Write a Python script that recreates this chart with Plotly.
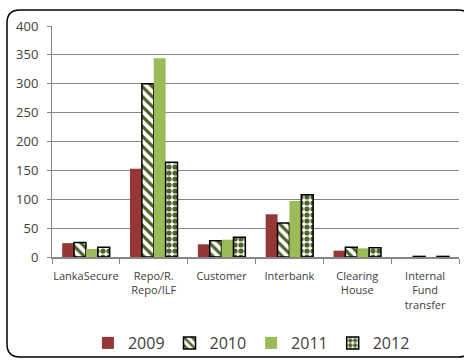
import plotly.graph_objects as go

categories = ["LankaSecure", "Repo/R.<br>Repo/ILF", "Customer", "Interbank",
              "Clearing<br>House", "Internal<br>Fund<br>transfer"]
years = ["2009", "2010", "2011", "2012"]
v2009 = [24, 153, 22, 74, 11, 0]
v2010 = [25, 300, 28, 59, 17, 1]
v2011 = [14, 344, 30, 97, 15, 0]
v2012 = [17, 164, 34, 108, 16, 1]
y_ticks = [0, 50, 100, 150, 200, 250, 300, 350, 400]

RED = "#953735"
GREEN = "#9BBB59"
DARK_GREEN = "#4F6228"
FONT = "'Open Sans', Lato, sans-serif"

fig = go.Figure()
fig.add_trace(go.Bar(name=years[0], x=categories, y=v2009,
                     marker=dict(color=RED, line=dict(width=0))))
fig.add_trace(go.Bar(name=years[1], x=categories, y=v2010,
                     marker=dict(color="white", line=dict(color="black", width=1.5),
                                 pattern=dict(shape="\\", fgcolor=DARK_GREEN, bgcolor="white",
                                              size=7, solidity=0.45, fillmode="replace"))))
fig.add_trace(go.Bar(name=years[2], x=categories, y=v2011,
                     marker=dict(color=GREEN, line=dict(width=0))))
fig.add_trace(go.Bar(name=years[3], x=categories, y=v2012,
                     marker=dict(color="white", line=dict(color="black", width=1.5),
                                 pattern=dict(shape=".", fgcolor=DARK_GREEN, bgcolor="white",
                                              size=6, solidity=0.6, fillmode="replace"))))

# plot area geometry in pixels (for the outer rounded frame)
W, H = 464, 360
L, R, T, B = 52, 5, 26, 103
pw, ph = W - L - R, H - T - B


def px(x):
    return (x - L) / pw


def py(y):
    return (H - B - y) / ph


def rounded_rect(x0, y0, x1, y1, r):
    return (f"M {px(x0 + r)},{py(y0)} L {px(x1 - r)},{py(y0)} "
            f"Q {px(x1)},{py(y0)} {px(x1)},{py(y0 + r)} "
            f"L {px(x1)},{py(y1 - r)} Q {px(x1)},{py(y1)} {px(x1 - r)},{py(y1)} "
            f"L {px(x0 + r)},{py(y1)} Q {px(x0)},{py(y1)} {px(x0)},{py(y1 - r)} "
            f"L {px(x0)},{py(y0 + r)} Q {px(x0)},{py(y0)} {px(x0 + r)},{py(y0)} Z")


fig.add_shape(type="path", xref="paper", yref="paper",
              path=rounded_rect(7, 10, 471, 357, 13),
              line=dict(color="black", width=1.5), fillcolor="rgba(0,0,0,0)", layer="above")

fig.update_layout(
    width=W, height=H,
    margin=dict(l=L, r=R, t=T, b=B, autoexpand=False),
    paper_bgcolor="white", plot_bgcolor="white",
    barmode="group", bargap=0.3, bargroupgap=0,
    font=dict(family=FONT, color="#404040"),
    showlegend=True,
    legend=dict(orientation="h", x=0.49, xanchor="center",
                yref="container", y=1 - 343 / H, yanchor="middle",
                font=dict(size=16, color="#404040", family=FONT), traceorder="normal",
                bgcolor="rgba(0,0,0,0)"),
)
fig.update_yaxes(range=[0, 400], tickvals=y_ticks, showgrid=True, gridcolor="#868686",
                 gridwidth=1, showline=True, linecolor="#868686", linewidth=1,
                 ticks="outside", ticklen=4, tickcolor="#868686",
                 tickfont=dict(size=13, color="#404040"), ticklabelstandoff=6,
                 zeroline=False, fixedrange=True, automargin=False)
fig.update_xaxes(showline=True, linecolor="#868686", linewidth=1.5,
                 ticks="outside", ticklen=5, tickcolor="#868686", tickson="boundaries",
                 tickfont=dict(size=11, color="#404040"), tickangle=0,
                 ticklabelstandoff=8, fixedrange=True, automargin=False)

fig.write_html("out.html")
